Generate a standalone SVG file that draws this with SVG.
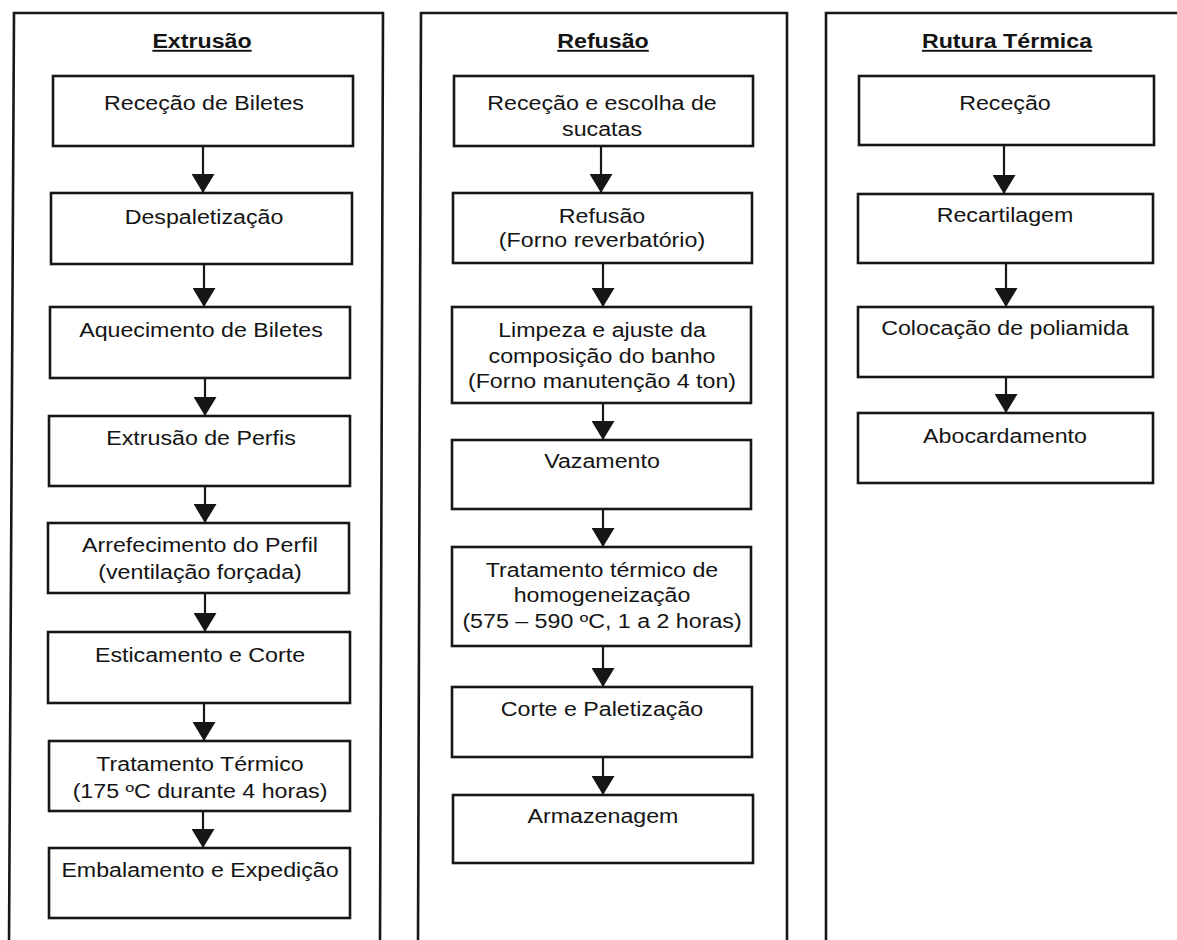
<svg xmlns="http://www.w3.org/2000/svg" width="1177" height="940" viewBox="0 0 1177 940">
<defs>
<style>
.panel{fill:none;stroke:#161616;stroke-width:2.6}
.box{fill:none;stroke:#161616;stroke-width:2.6}
.con{stroke:#161616;stroke-width:2.2;fill:none}
.t{font-family:"Liberation Sans",Arial,Helvetica,sans-serif;font-size:19.5px;fill:#141414;text-anchor:middle}
.h{font-family:"Liberation Sans",Arial,Helvetica,sans-serif;font-size:19.5px;font-weight:bold;fill:#141414;text-anchor:middle;text-decoration:underline}
</style>
<marker id="ah" markerUnits="userSpaceOnUse" markerWidth="19" markerHeight="23" viewBox="0 0 19 23" refX="19" refY="11.5" orient="auto">
<path d="M0,0 L19,11.5 L0,23 Z" fill="#161616"/>
</marker>
</defs>
<rect width="1177" height="940" fill="#ffffff"/>

<g id="panel-extrusao">
<path class="panel" d="M9,945 L14,13 L383,13 L380,945"/>
<text class="h" transform="translate(202,48) scale(1.19,1)">Extrusão</text>
</g>
<g id="panel-refusao">
<path class="panel" d="M418,945 L421,13 L787,13 L787,945"/>
<text class="h" transform="translate(603,48) scale(1.19,1)">Refusão</text>
</g>
<g id="panel-rutura">
<path class="panel" d="M826,945 L826,13 L1180,13"/>
<text class="h" transform="translate(1007,48) scale(1.19,1)">Rutura Térmica</text>
</g>

<!-- Extrusão nodes -->
<g id="e1"><rect class="box" x="53" y="76" width="300" height="70"/><text class="t" transform="translate(204,110) scale(1.19,1)">Receção de Biletes</text></g>
<g id="e2"><rect class="box" x="51" y="193" width="301" height="71"/><text class="t" transform="translate(204,224) scale(1.19,1)">Despaletização</text></g>
<g id="e3"><rect class="box" x="50" y="307" width="300" height="71"/><text class="t" transform="translate(201,337) scale(1.19,1)">Aquecimento de Biletes</text></g>
<g id="e4"><rect class="box" x="49" y="416" width="301" height="70"/><text class="t" transform="translate(201,445) scale(1.19,1)">Extrusão de Perfis</text></g>
<g id="e5"><rect class="box" x="48" y="523" width="301" height="70"/><text class="t" transform="translate(200,552) scale(1.19,1)"><tspan x="0">Arrefecimento do Perfil</tspan><tspan x="0" dy="27">(ventilação forçada)</tspan></text></g>
<g id="e6"><rect class="box" x="48" y="632" width="302" height="71"/><text class="t" transform="translate(200,662) scale(1.19,1)">Esticamento e Corte</text></g>
<g id="e7"><rect class="box" x="49" y="741" width="301" height="70"/><text class="t" transform="translate(200,771) scale(1.19,1)"><tspan x="0">Tratamento Térmico</tspan><tspan x="0" dy="27">(175 ºC durante 4 horas)</tspan></text></g>
<g id="e8"><rect class="box" x="49" y="848" width="301" height="70"/><text class="t" transform="translate(200,877) scale(1.19,1)">Embalamento e Expedição</text></g>

<!-- Refusão nodes -->
<g id="r1"><rect class="box" x="454" y="76" width="299" height="70"/><text class="t" transform="translate(602,110) scale(1.19,1)"><tspan x="0">Receção e escolha de</tspan><tspan x="0" dy="26">sucatas</tspan></text></g>
<g id="r2"><rect class="box" x="453" y="193" width="299" height="70"/><text class="t" transform="translate(602,223) scale(1.19,1)"><tspan x="0">Refusão</tspan><tspan x="0" dy="24">(Forno reverbatório)</tspan></text></g>
<g id="r3"><rect class="box" x="452" y="307" width="299" height="96"/><text class="t" transform="translate(602,337) scale(1.19,1)"><tspan x="0">Limpeza e ajuste da</tspan><tspan x="0" dy="26">composição do banho</tspan><tspan x="0" dy="25">(Forno manutenção 4 ton)</tspan></text></g>
<g id="r4"><rect class="box" x="452" y="440" width="299" height="69"/><text class="t" transform="translate(602,468) scale(1.19,1)">Vazamento</text></g>
<g id="r5"><rect class="box" x="452" y="547" width="299" height="99"/><text class="t" transform="translate(602,577) scale(1.19,1)"><tspan x="0">Tratamento térmico de</tspan><tspan x="0" dy="25">homogeneização</tspan><tspan x="0" dy="26">(575 – 590 ºC, 1 a 2 horas)</tspan></text></g>
<g id="r6"><rect class="box" x="452" y="687" width="300" height="70"/><text class="t" transform="translate(602,716) scale(1.19,1)">Corte e Paletização</text></g>
<g id="r7"><rect class="box" x="453" y="795" width="300" height="68"/><text class="t" transform="translate(603,823) scale(1.19,1)">Armazenagem</text></g>

<!-- Rutura Térmica nodes -->
<g id="t1"><rect class="box" x="859" y="76" width="295" height="69"/><text class="t" transform="translate(1005,110) scale(1.19,1)">Receção</text></g>
<g id="t2"><rect class="box" x="858" y="194" width="295" height="69"/><text class="t" transform="translate(1005,222) scale(1.19,1)">Recartilagem</text></g>
<g id="t3"><rect class="box" x="858" y="307" width="295" height="70"/><text class="t" transform="translate(1005,335) scale(1.19,1)">Colocação de poliamida</text></g>
<g id="t4"><rect class="box" x="858" y="413" width="295" height="70"/><text class="t" transform="translate(1005,443) scale(1.19,1)">Abocardamento</text></g>

<g id="connectors">
<line class="con" x1="203" y1="146" x2="203" y2="193" marker-end="url(#ah)"/>
<line class="con" x1="204" y1="264" x2="204" y2="307" marker-end="url(#ah)"/>
<line class="con" x1="205" y1="378" x2="205" y2="416" marker-end="url(#ah)"/>
<line class="con" x1="205" y1="486" x2="205" y2="523" marker-end="url(#ah)"/>
<line class="con" x1="205" y1="593" x2="205" y2="632" marker-end="url(#ah)"/>
<line class="con" x1="204" y1="703" x2="204" y2="741" marker-end="url(#ah)"/>
<line class="con" x1="203" y1="811" x2="203" y2="848" marker-end="url(#ah)"/>

<line class="con" x1="601" y1="146" x2="601" y2="193" marker-end="url(#ah)"/>
<line class="con" x1="603" y1="263" x2="603" y2="307" marker-end="url(#ah)"/>
<line class="con" x1="603" y1="403" x2="603" y2="440" marker-end="url(#ah)"/>
<line class="con" x1="603" y1="509" x2="603" y2="547" marker-end="url(#ah)"/>
<line class="con" x1="603" y1="646" x2="603" y2="687" marker-end="url(#ah)"/>
<line class="con" x1="603" y1="757" x2="603" y2="795" marker-end="url(#ah)"/>

<line class="con" x1="1004" y1="145" x2="1004" y2="194" marker-end="url(#ah)"/>
<line class="con" x1="1006" y1="263" x2="1006" y2="307" marker-end="url(#ah)"/>
<line class="con" x1="1006" y1="377" x2="1006" y2="413" marker-end="url(#ah)"/>
</g>
</svg>
